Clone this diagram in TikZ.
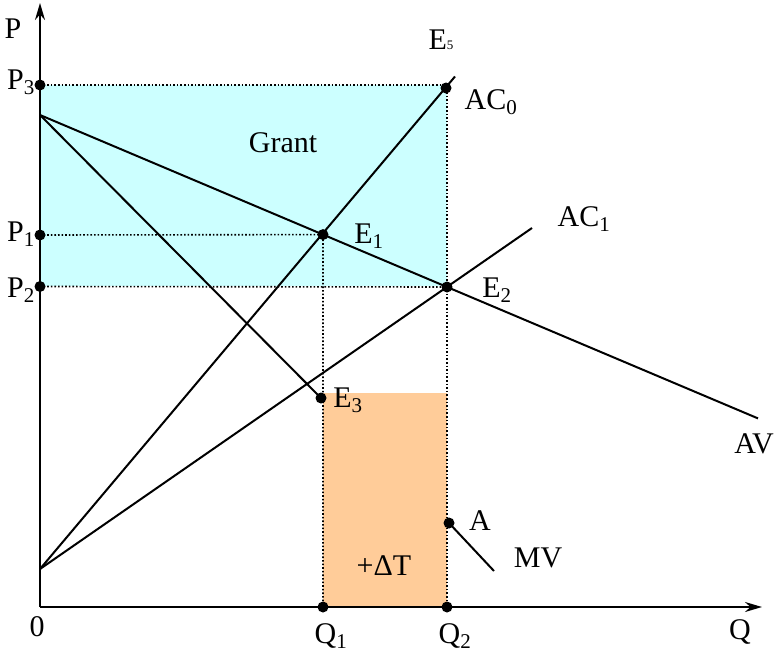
\documentclass[tikz,border=0pt]{standalone}
\usepackage{fontspec}
\setmainfont{Liberation Serif}
\usetikzlibrary{arrows.meta}
\definecolor{grantcol}{HTML}{CCFFFF}
\definecolor{taxcol}{HTML}{FFCC99}
\tikzset{
  curve/.style={line width=2pt},
  axis/.style={line width=2pt,-{Stealth[length=17pt,width=10pt]}},
  guide/.style={dotted,line width=1.6pt},
  pt/.style={circle,fill=black,inner sep=0pt,minimum size=11pt},
  lab/.style={inner sep=0pt,font=\fontsize{30}{33}\selectfont}
}
\begin{document}
\begin{tikzpicture}[x=1pt,y=-1pt]
\useasboundingbox (0,0) rectangle (774,656);
% coordinates
\coordinate (O) at (40,607);
\coordinate (Ytop) at (40,3);
\coordinate (Xend) at (762,607);
\coordinate (ACo) at (40,569);
\coordinate (AVo) at (40,115);
\coordinate (ACzeroEnd) at (455,76.5);
\coordinate (AConeEnd) at (532,228);
\coordinate (AVend) at (758,418.4);
\coordinate (MVend) at (494,571);
% shaded areas
\fill[grantcol] (40,85) rectangle (447,286);
\fill[taxcol] (323,393) rectangle (447,607);
% points
\node[pt] (P3) at (40,85) {};
\node[pt] (P1) at (40,235) {};
\node[pt] (P2) at (40,286.5) {};
\node[pt] (E5) at (446,88) {};
\node[pt] (E1) at (323,234.6) {};
\node[pt] (E2) at (447,287) {};
\node[pt] (E3) at (321,398) {};
\node[pt] (A) at (449,523) {};
\node[pt] (Q1) at (323,607) {};
\node[pt] (Q2) at (447,607) {};
% guides
\draw[guide] (P3.center) -- (447,85) -- (Q2.center);
\draw[guide] (P1.center) -- (E1.center) -- (Q1.center);
\draw[guide] (P2.center) -- (E2.center);
% axes
\draw[axis] (O) -- (Ytop);
\draw[axis] (O) -- (Xend);
% curves
\draw[curve] (ACo) -- (ACzeroEnd);
\draw[curve] (ACo) -- (AConeEnd);
\draw[curve] (AVo) -- (AVend);
\draw[curve] (AVo) -- (E3.center);
\draw[curve] (A.center) -- (MVend);
% labels
\node[lab] (lP) at (13,29) {P};
\node[lab] (lP3) at (21,82) {P\textsubscript{3}};
\node[lab] (lP1) at (21,234) {P\textsubscript{1}};
\node[lab] (lP2) at (21,290) {P\textsubscript{2}};
\node[lab] (lE5) at (441,40) {E{\fontsize{13}{13}\selectfont 5}};
\node[lab] (lAC0) at (491,102) {AC\textsubscript{0}};
\node[lab] (lAC1) at (584,219) {AC\textsubscript{1}};
\node[lab] (lE1) at (369,236) {E\textsubscript{1}};
\node[lab] (lE2) at (497,290) {E\textsubscript{2}};
\node[lab] (lE3) at (348,400) {E\textsubscript{3}};
\node[lab] (lGrant) at (283,143) {Grant};
\node[lab] (lAV) at (754,444) {AV};
\node[lab] (lA) at (480,521) {A};
\node[lab] (lMV) at (538,558) {MV};
\node[lab] (ldT) at (384,566) {+ΔT};
\node[lab] (l0) at (37,627) {0};
\node[lab] (lQ1) at (331,636) {Q\textsubscript{1}};
\node[lab] (lQ2) at (455,636) {Q\textsubscript{2}};
\node[lab] (lQ) at (740,632) {Q};
\end{tikzpicture}
\end{document}
